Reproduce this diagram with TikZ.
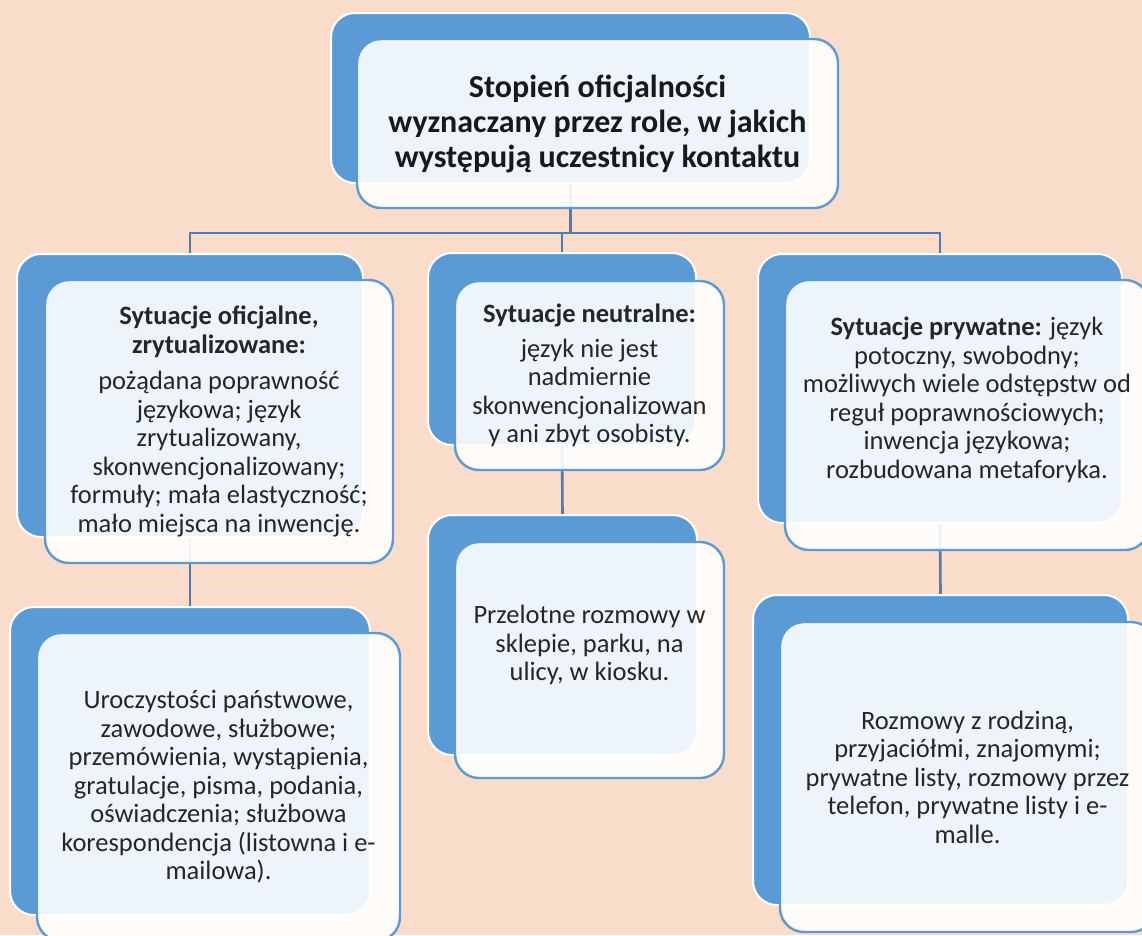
\documentclass[tikz,border=0pt]{standalone}
\usepackage{fontspec}
\setmainfont{Carlito}
\usetikzlibrary{backgrounds}
\definecolor{peach}{HTML}{FADCCA}
\definecolor{boxblue}{HTML}{5B9BD5}
\definecolor{linkblue}{HTML}{4A7EBB}
\tikzset{
    backbox/.style = {rectangle, rounded corners=24pt, draw=white, line width=2pt, fill=boxblue, inner sep=0pt},
    frontbox/.style = {rectangle, rounded corners=24pt, draw=boxblue, line width=2.4pt, fill=white, fill opacity=0.9, inner sep=0pt},
    titletext/.style = {align=center, font=\fontsize{32}{35}\selectfont\bfseries, text=black!90},
    bodytext/.style = {align=center, font=\fontsize{26.5}{28.5}\selectfont, text=black!85},
    edgel/.style = {-, line width=2.6pt, linkblue},
}

\begin{document}
\begin{tikzpicture}[x=1pt, y=-1pt]
\path[use as bounding box] (0,0) rectangle (1142,935);
\clip (0,0) rectangle (1142,935);
\begin{scope}[on background layer]
\fill[peach] (0,0) rectangle (1142,935);
\end{scope}
\node[backbox, minimum width=479, minimum height=170] at (570.5, 98.0) (topB) {};
\node[frontbox, minimum width=481, minimum height=169] at (597.5, 123.5) (topF) {};
\node[titletext] at (topF.center) (topT) {Stopień oficjalności\\wyznaczany przez role, w jakich\\występują uczestnicy kontaktu};
%
\node[backbox, minimum width=346, minimum height=283] at (190.0, 395.5) (offB) {};
\node[frontbox, minimum width=348, minimum height=283] at (219.0, 421.5) (offF) {};
\node[bodytext] at (offF.center) (offT) {\textbf{Sytuacje oficjalne,}\\\textbf{zrytualizowane:}\\[8pt]pożądana poprawność\\językowa; język\\zrytualizowany,\\skonwencjonalizowany;\\formuły; mała elastyczność;\\mało miejsca na inwencję.};
%
\node[backbox, minimum width=268, minimum height=192] at (562.0, 349.0) (neuB) {};
\node[frontbox, minimum width=269, minimum height=189] at (589.5, 375.5) (neuF) {};
\node[bodytext] at (neuF.center) (neuT) {\textbf{Sytuacje neutralne:}\\[6pt]język nie jest\\nadmiernie\\skonwencjonalizowan\\y ani zbyt osobisty.};
%
\node[backbox, minimum width=364, minimum height=269] at (940.0, 388.5) (prwB) {};
\node[frontbox, minimum width=364, minimum height=270] at (967.0, 415.0) (prwF) {};
\node[bodytext] at ([yshift=15pt]prwF.center) (prwT) {\textbf{Sytuacje prywatne:} język\\potoczny, swobodny;\\możliwych wiele odstępstw od\\reguł poprawnościowych;\\inwencja językowa;\\rozbudowana metaforyka.};
%
\node[backbox, minimum width=360, minimum height=308] at (190.0, 761.0) (offxB) {};
\node[frontbox, minimum width=363, minimum height=308] at (218.5, 787.0) (offxF) {};
\node[bodytext] at (offxF.center) (offxT) {Uroczystości państwowe,\\zawodowe, służbowe;\\przemówienia, wystąpienia,\\gratulacje, pisma, podania,\\oświadczenia; służbowa\\korespondencja (listowna i e-\\mailowa).};
%
\node[backbox, minimum width=269, minimum height=240] at (562.5, 635.0) (neuxB) {};
\node[frontbox, minimum width=269, minimum height=236] at (589.5, 660.0) (neuxF) {};
\node[bodytext] at ([yshift=15pt]neuxF.center) (neuxT) {Przelotne rozmowy w\\sklepie, parku, na\\ulicy, w kiosku.};
%
\node[backbox, minimum width=375, minimum height=310] at (940.5, 750.0) (prwxB) {};
\node[frontbox, minimum width=375, minimum height=310] at (967.5, 777.0) (prwxF) {};
\node[bodytext] at (prwxF.center) (prwxT) {Rozmowy z rodziną,\\przyjaciółmi, znajomymi;\\prywatne listy, rozmowy przez\\telefon, prywatne listy i e-\\malle.};
%
\begin{scope}[on background layer]
\draw[edgel] (topB.south) -- ++(0,49) -| (offB.north);
\draw[edgel] (topB.south) -- ++(0,49) -| (neuB.north);
\draw[edgel] (topB.south) -- ++(0,49) -| (prwB.north);
\draw[edgel] (offB.south) -- (offxB.north);
\draw[edgel] (neuB.south) -- (neuxB.north);
\draw[edgel] (prwB.south) -- (prwxB.north);
\end{scope}
\end{tikzpicture}
\end{document}
